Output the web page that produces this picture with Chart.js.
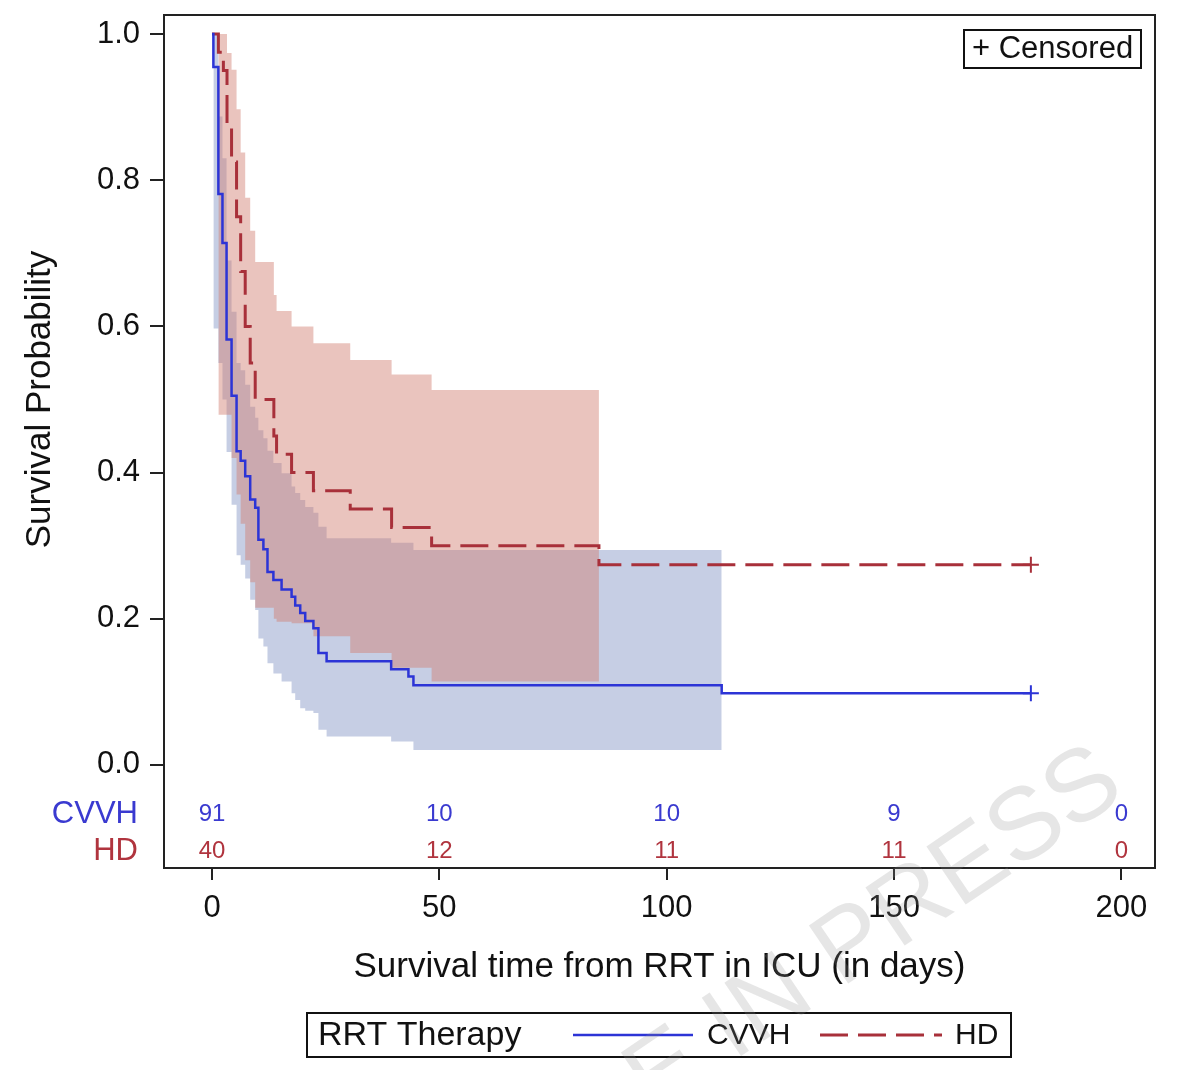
<!DOCTYPE html>
<html lang="en">
<head>
<meta charset="UTF-8">
<title>Survival by RRT Therapy</title>
<script src="https://cdn.jsdelivr.net/npm/chart.js"></script>
<style>
  body { margin: 0; background: #fff; }
</style>
</head>
<body>
<canvas id="kmChart" width="1180" height="1070"></canvas>

<script>
// Kaplan-Meier steps (time in days, survival after the step)
const cvvhTime = [0, 0.3, 1.4, 2.3, 3.2, 4.3, 5.4, 6.3, 7.3, 8.4, 9.5, 10.2, 11.3, 12.2, 13.5, 15.3, 17.5, 18.3, 19.4, 20.5, 22.3, 23.4, 25.2, 39.4, 43.2, 44.3, 112.1, 180.1];
const cvvhSurv = [1.0, 0.955, 0.781, 0.714, 0.582, 0.505, 0.429, 0.416, 0.395, 0.363, 0.352, 0.308, 0.295, 0.264, 0.253, 0.240, 0.230, 0.218, 0.208, 0.197, 0.187, 0.153, 0.142, 0.131, 0.121, 0.109, 0.098, 0.098];
const hdTime = [0, 1.4, 2.5, 3.3, 4.3, 5.4, 6.3, 7.3, 8.4, 9.5, 13.6, 14.2, 17.5, 22.3, 30.4, 39.5, 48.3, 85.1, 180.1];
const hdSurv = [1.0, 0.975, 0.95, 0.875, 0.825, 0.75, 0.675, 0.60, 0.55, 0.50, 0.45, 0.425, 0.40, 0.375, 0.35, 0.325, 0.30, 0.274, 0.274];

// confidence bands
const cvvhBandTime = [0.3, 1.4, 2.3, 3.2, 4.3, 5.4, 6.3, 7.3, 8.4, 9.5, 10.2, 11.3, 12.2, 13.5, 15.3, 17.5, 18.3, 19.4, 20.5, 22.3, 23.4, 25.2, 39.4, 44.3, 112.1];
const cvvhUpper = [1.0, 0.887, 0.83, 0.69, 0.62, 0.55, 0.54, 0.52, 0.49, 0.475, 0.458, 0.447, 0.43, 0.413, 0.399, 0.381, 0.372, 0.3625, 0.353, 0.345, 0.326, 0.31, 0.304, 0.294, 0.294];
const cvvhLower = [0.597, 0.55, 0.50, 0.428, 0.356, 0.287, 0.274, 0.255, 0.226, 0.212, 0.173, 0.162, 0.139, 0.125, 0.114, 0.098, 0.089, 0.0775, 0.074, 0.071, 0.048, 0.039, 0.032, 0.0205, 0.0205];
const hdBandTime = [1.4, 3.3, 4.3, 5.4, 6.3, 7.3, 8.4, 9.5, 13.6, 14.2, 17.5, 22.3, 30.4, 39.5, 48.3, 85.1];
const hdUpper = [1.0, 0.974, 0.951, 0.897, 0.838, 0.776, 0.731, 0.688, 0.643, 0.621, 0.60, 0.577, 0.554, 0.534, 0.513, 0.513];
const hdLower = [0.479, 0.479, 0.42, 0.37, 0.33, 0.28, 0.25, 0.215, 0.20, 0.196, 0.194, 0.176, 0.153, 0.133, 0.114, 0.114];

// censored observations
const cvvhCensorTime = [180.1];
const cvvhCensorSurv = [0.098];
const hdCensorTime = [180.1];
const hdCensorSurv = [0.274];

// number at risk table
const atRiskTime = [0, 50, 100, 150, 200];
const cvvhAtRisk = [91, 10, 10, 9, 0];
const hdAtRisk = [40, 12, 11, 11, 0];

const xTicks = [0, 50, 100, 150, 200];
const yTicks = [0.0, 0.2, 0.4, 0.6, 0.8, 1.0];

const BLUE = '#2c34d6';
const RED = '#a8303a';
const FONT = '"Liberation Sans", Arial, sans-serif';

function pts(xs, ys) {
    return xs.map((x, i) => ({ x: x, y: ys[i] }));
}

Chart.defaults.font.family = FONT;
Chart.defaults.color = '#111';

// frame, titles, at-risk numbers, legends, watermark
const extras = {
    id: 'extras',
    afterDraw(chart) {
        const ctx = chart.ctx;
        const a = chart.chartArea;
        const xs = chart.scales.x;
        const ys = chart.scales.y;
        ctx.save();

        ctx.strokeStyle = '#222';
        ctx.lineWidth = 2;
        ctx.strokeRect(a.left, a.top, a.right - a.left, a.bottom - a.top);

        // at risk rows
        ctx.font = '24px ' + FONT;
        ctx.textAlign = 'center';
        ctx.textBaseline = 'middle';
        const rowCvvh = ys.getPixelForValue(-0.068);
        const rowHd = ys.getPixelForValue(-0.118);
        atRiskTime.forEach((t, i) => {
            const px = xs.getPixelForValue(t);
            ctx.fillStyle = '#3a3ad0';
            ctx.fillText(cvvhAtRisk[i], px, rowCvvh);
            ctx.fillStyle = '#b0343e';
            ctx.fillText(hdAtRisk[i], px, rowHd);
        });
        ctx.font = '31px ' + FONT;
        ctx.textAlign = 'right';
        ctx.fillStyle = '#3a3ad0';
        ctx.fillText('CVVH', a.left - 26, rowCvvh);
        ctx.fillStyle = '#b0343e';
        ctx.fillText('HD', a.left - 26, rowHd);

        // axis titles
        ctx.fillStyle = '#111';
        ctx.font = '35px ' + FONT;
        ctx.textAlign = 'center';
        ctx.fillText('Survival time from RRT in ICU (in days)', (a.left + a.right) / 2, 967);
        ctx.save();
        ctx.translate(40, (ys.getPixelForValue(0) + ys.getPixelForValue(1)) / 2);
        ctx.rotate(-Math.PI / 2);
        ctx.fillText('Survival Probability', 0, 0);
        ctx.restore();

        // censored box
        ctx.strokeStyle = '#111';
        ctx.lineWidth = 2;
        ctx.strokeRect(964, 30, 177, 38);
        ctx.font = '31px ' + FONT;
        ctx.textAlign = 'left';
        ctx.fillText('+ Censored', 972, 49);

        // legend
        ctx.strokeRect(307, 1013, 704, 44);
        ctx.font = '34px ' + FONT;
        ctx.fillText('RRT Therapy', 318, 1036);
        ctx.strokeStyle = BLUE;
        ctx.lineWidth = 2.5;
        ctx.beginPath();
        ctx.moveTo(573, 1035);
        ctx.lineTo(693, 1035);
        ctx.stroke();
        ctx.font = '30px ' + FONT;
        ctx.fillText('CVVH', 707, 1036);
        ctx.strokeStyle = RED;
        ctx.lineWidth = 3;
        ctx.setLineDash([28, 10]);
        ctx.beginPath();
        ctx.moveTo(820, 1035);
        ctx.lineTo(942, 1035);
        ctx.stroke();
        ctx.setLineDash([]);
        ctx.fillText('HD', 955, 1036);

        // watermark
        ctx.save();
        ctx.translate(1128, 795);
        ctx.rotate(-34 * Math.PI / 180);
        ctx.font = '102px ' + FONT;
        ctx.textAlign = 'right';
        ctx.textBaseline = 'alphabetic';
        ctx.fillStyle = 'rgba(140,140,140,0.22)';
        ctx.fillText('ARTICLE IN PRESS', 0, 0);
        ctx.restore();

        ctx.restore();
    }
};

const ctx = document.getElementById('kmChart').getContext('2d');
new Chart(ctx, {
    type: 'line',
    data: {
        datasets: [
            { label: 'CVVH', data: pts(cvvhTime, cvvhSurv), stepped: true, borderColor: BLUE, borderWidth: 2.5, pointRadius: 0, fill: false, order: 1 },
            { label: 'HD', data: pts(hdTime, hdSurv), stepped: true, borderColor: RED, borderWidth: 3, borderDash: [28, 10], pointRadius: 0, fill: false, order: 2 },
            { label: 'CVVH censored', data: pts(cvvhCensorTime, cvvhCensorSurv), showLine: false, pointStyle: 'cross', pointRadius: 8, borderColor: BLUE, borderWidth: 2, order: 0 },
            { label: 'HD censored', data: pts(hdCensorTime, hdCensorSurv), showLine: false, pointStyle: 'cross', pointRadius: 8, borderColor: RED, borderWidth: 2, order: 0 },
            { label: 'HD upper', data: pts(hdBandTime, hdUpper), stepped: true, borderColor: 'transparent', borderWidth: 0, pointRadius: 0, fill: '+1', backgroundColor: 'rgba(208,124,110,0.45)', order: 6 },
            { label: 'HD lower', data: pts(hdBandTime, hdLower), stepped: true, borderColor: 'transparent', borderWidth: 0, pointRadius: 0, fill: false, order: 7 },
            { label: 'CVVH upper', data: pts(cvvhBandTime, cvvhUpper), stepped: true, borderColor: 'transparent', borderWidth: 0, pointRadius: 0, fill: '+1', backgroundColor: '#c6cee4', order: 8 },
            { label: 'CVVH lower', data: pts(cvvhBandTime, cvvhLower), stepped: true, borderColor: 'transparent', borderWidth: 0, pointRadius: 0, fill: false, order: 9 }
        ]
    },
    options: {
        responsive: false,
        animation: false,
        layout: { padding: { left: 0, top: 15, right: 25, bottom: 0 } },
        plugins: { legend: { display: false }, tooltip: { enabled: false } },
        scales: {
            x: {
                type: 'linear',
                min: -10.56,
                max: 207.4,
                afterBuildTicks: s => { s.ticks = xTicks.map(v => ({ value: v })); },
                afterFit: s => { s.height = 202; s.paddingLeft = 0; s.paddingRight = 0; },
                ticks: { font: { size: 31 }, color: '#111', padding: 10, maxRotation: 0, callback: v => v },
                grid: { drawOnChartArea: false, tickLength: 12, color: '#222', lineWidth: 2 },
                border: { color: '#222', width: 2 }
            },
            y: {
                min: -0.141,
                max: 1.026,
                afterBuildTicks: s => { s.ticks = yTicks.map(v => ({ value: v })); },
                afterFit: s => { s.width = 164; s.paddingTop = 0; s.paddingBottom = 0; },
                ticks: { font: { size: 31 }, color: '#111', padding: 10, callback: v => v.toFixed(1) },
                grid: { drawOnChartArea: false, tickLength: 14, color: '#222', lineWidth: 2 },
                border: { color: '#222', width: 2 }
            }
        }
    },
    plugins: [extras]
});
</script>
</body>
</html>
